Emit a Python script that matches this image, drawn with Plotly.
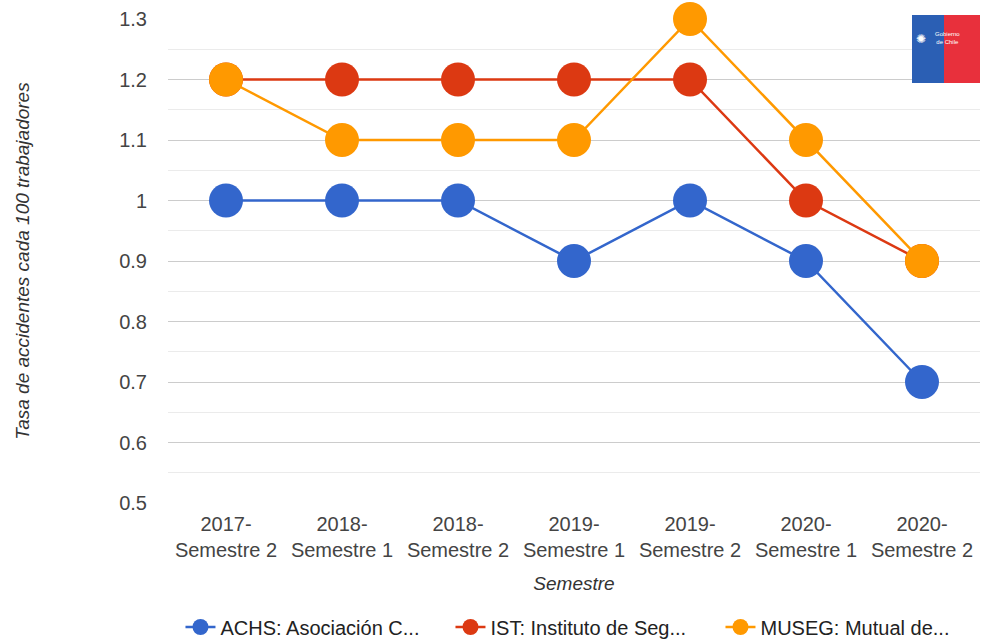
import plotly.graph_objects as go

categories = ["2017-<br>Semestre 2", "2018-<br>Semestre 1", "2018-<br>Semestre 2",
              "2019-<br>Semestre 1", "2019-<br>Semestre 2", "2020-<br>Semestre 1",
              "2020-<br>Semestre 2"]
achs = [1.0, 1.0, 1.0, 0.9, 1.0, 0.9, 0.7]
ist = [1.2, 1.2, 1.2, 1.2, 1.2, 1.0, 0.9]
museg = [1.2, 1.1, 1.1, 1.1, 1.3, 1.1, 0.9]
series_names = ["ACHS: Asociación C...", "IST: Instituto de Seg...", "MUSEG: Mutual de..."]
y_ticks = [0.5, 0.6, 0.7, 0.8, 0.9, 1.0, 1.1, 1.2, 1.3]
y_ticktext = ["0.5", "0.6", "0.7", "0.8", "0.9", "1", "1.1", "1.2", "1.3"]

colors = ["#3366cc", "#dc3912", "#ff9900"]
FONT = "Liberation Sans, Arial, sans-serif"

fig = go.Figure()
for name, vals, c in zip(series_names, [achs, ist, museg], colors):
    fig.add_trace(go.Scatter(
        x=categories, y=vals, name=name, mode="lines+markers",
        line=dict(color=c, width=2.5),
        marker=dict(color=c, size=34),
        cliponaxis=False,
    ))

# Gobierno de Chile logo (decoration)
def px_x(p):
    return (p - 168) / 812
def px_y(p):
    return (503 - p) / 484

fig.add_shape(type="rect", xref="paper", yref="paper", layer="above",
              x0=px_x(912), x1=px_x(944), y0=px_y(83), y1=px_y(15),
              fillcolor="#2b5fb4", line=dict(width=0))
fig.add_shape(type="rect", xref="paper", yref="paper", layer="above",
              x0=px_x(944), x1=px_x(980), y0=px_y(83), y1=px_y(15),
              fillcolor="#e8303c", line=dict(width=0))
fig.add_annotation(xref="paper", yref="paper", x=px_x(928), y=px_y(30),
                   text="✺", showarrow=False, font=dict(color="white", size=12))
fig.add_annotation(xref="paper", yref="paper", x=px_x(962), y=px_y(29),
                   text="Gobierno<br>de Chile", showarrow=False,
                   font=dict(color="white", size=6, family=FONT))

fig.update_layout(
    width=984, height=640,
    margin=dict(l=168, r=4, t=19, b=137, autoexpand=False),
    paper_bgcolor="white", plot_bgcolor="white",
    font=dict(family=FONT, size=20, color="#444"),
    showlegend=True,
    legend=dict(orientation="h", xref="container", yref="container",
                x=0.595, xanchor="center", y=13 / 640, yanchor="middle",
                font=dict(size=20, color="#222"), itemwidth=30, traceorder="normal",
                entrywidth=225, entrywidthmode="pixels"),
    xaxis=dict(
        range=[-0.5, 6.5], showgrid=False, zeroline=False, showline=False,
        automargin=False,
        ticks="outside", ticklen=3, tickcolor="rgba(0,0,0,0)",
        tickfont=dict(size=20, color="#444"),
        title=dict(text="<i>Semestre</i>", font=dict(size=19, color="#333"), standoff=16),
    ),
    yaxis=dict(
        range=[0.5, 1.3], tickvals=y_ticks, ticktext=y_ticktext,
        showgrid=True, gridcolor="#cccccc", gridwidth=1,
        minor=dict(dtick=0.05, showgrid=True, gridcolor="#ebebeb", gridwidth=1),
        zeroline=False, showline=False, automargin=False,
        ticks="outside", ticklen=16, tickcolor="rgba(0,0,0,0)",
        tickfont=dict(size=20, color="#444"),
        title=dict(text="<i>Tasa de accidentes cada 100 trabajadores</i>",
                   font=dict(size=19, color="#333"), standoff=84),
    ),
)

fig.write_html("out.html", config={"displayModeBar": False},
               post_script="document.body.style.margin='0';document.body.style.overflow='hidden';")
